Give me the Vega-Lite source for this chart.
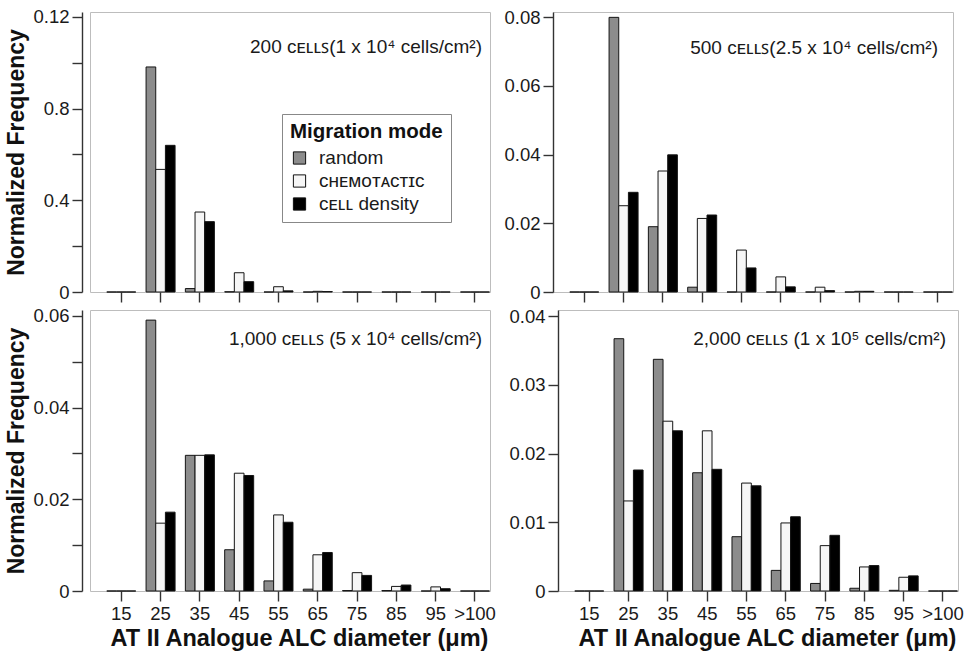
{
  "$schema": "https://vega.github.io/schema/vega-lite/v6.json",
  "background": "white",
  "padding": {"left": 5, "top": 7, "right": 3, "bottom": 0},
  "config": {
    "font": "Liberation Sans",
    "view": {"stroke": "#bdbdbd", "strokeWidth": 1},
    "axis": {"labelFontSize": 18.5, "labelColor": "#1a1a1a", "titleFontSize": 23, "titleFontWeight": "bold", "titleColor": "#111", "tickColor": "#333", "domainColor": "#333", "tickWidth": 1.4, "domainWidth": 1.4, "tickSize": 10, "grid": false, "labelPadding": 3},
    "legend": {"titleFontSize": 20.5, "titleFontWeight": "bold", "titleColor": "#111", "labelFontSize": 19, "labelColor": "#1a1a1a", "symbolType": "square", "symbolSize": 150, "symbolStrokeColor": "#111", "symbolStrokeWidth": 1, "strokeColor": "#888", "padding": 8, "rowPadding": 3, "titlePadding": 6, "labelOffset": 10}
  },
  "datasets": {
    "hist": [
      {"panel": "TL", "bin": "15", "mode": "random", "freq": 0},
      {"panel": "TL", "bin": "15", "mode": "chemotactic", "freq": 0},
      {"panel": "TL", "bin": "15", "mode": "cell density", "freq": 0},
      {"panel": "TL", "bin": "25", "mode": "random", "freq": 0.0982},
      {"panel": "TL", "bin": "25", "mode": "chemotactic", "freq": 0.0535},
      {"panel": "TL", "bin": "25", "mode": "cell density", "freq": 0.064},
      {"panel": "TL", "bin": "35", "mode": "random", "freq": 0.0015},
      {"panel": "TL", "bin": "35", "mode": "chemotactic", "freq": 0.0349},
      {"panel": "TL", "bin": "35", "mode": "cell density", "freq": 0.0307},
      {"panel": "TL", "bin": "45", "mode": "random", "freq": 0.0001},
      {"panel": "TL", "bin": "45", "mode": "chemotactic", "freq": 0.0084},
      {"panel": "TL", "bin": "45", "mode": "cell density", "freq": 0.0045},
      {"panel": "TL", "bin": "55", "mode": "random", "freq": 0},
      {"panel": "TL", "bin": "55", "mode": "chemotactic", "freq": 0.0023},
      {"panel": "TL", "bin": "55", "mode": "cell density", "freq": 0.0005},
      {"panel": "TL", "bin": "65", "mode": "random", "freq": 0},
      {"panel": "TL", "bin": "65", "mode": "chemotactic", "freq": 0.0003},
      {"panel": "TL", "bin": "65", "mode": "cell density", "freq": 0.0002},
      {"panel": "TL", "bin": "75", "mode": "random", "freq": 0},
      {"panel": "TL", "bin": "75", "mode": "chemotactic", "freq": 0},
      {"panel": "TL", "bin": "75", "mode": "cell density", "freq": 0},
      {"panel": "TL", "bin": "85", "mode": "random", "freq": 0},
      {"panel": "TL", "bin": "85", "mode": "chemotactic", "freq": 0},
      {"panel": "TL", "bin": "85", "mode": "cell density", "freq": 0},
      {"panel": "TL", "bin": "95", "mode": "random", "freq": 0},
      {"panel": "TL", "bin": "95", "mode": "chemotactic", "freq": 0},
      {"panel": "TL", "bin": "95", "mode": "cell density", "freq": 0},
      {"panel": "TL", "bin": ">100", "mode": "random", "freq": 0},
      {"panel": "TL", "bin": ">100", "mode": "chemotactic", "freq": 0},
      {"panel": "TL", "bin": ">100", "mode": "cell density", "freq": 0},

      {"panel": "TR", "bin": "15", "mode": "random", "freq": 0},
      {"panel": "TR", "bin": "15", "mode": "chemotactic", "freq": 0},
      {"panel": "TR", "bin": "15", "mode": "cell density", "freq": 0},
      {"panel": "TR", "bin": "25", "mode": "random", "freq": 0.0799},
      {"panel": "TR", "bin": "25", "mode": "chemotactic", "freq": 0.0251},
      {"panel": "TR", "bin": "25", "mode": "cell density", "freq": 0.029},
      {"panel": "TR", "bin": "35", "mode": "random", "freq": 0.019},
      {"panel": "TR", "bin": "35", "mode": "chemotactic", "freq": 0.0352},
      {"panel": "TR", "bin": "35", "mode": "cell density", "freq": 0.0399},
      {"panel": "TR", "bin": "45", "mode": "random", "freq": 0.0014},
      {"panel": "TR", "bin": "45", "mode": "chemotactic", "freq": 0.0214},
      {"panel": "TR", "bin": "45", "mode": "cell density", "freq": 0.0224},
      {"panel": "TR", "bin": "55", "mode": "random", "freq": 0},
      {"panel": "TR", "bin": "55", "mode": "chemotactic", "freq": 0.0122},
      {"panel": "TR", "bin": "55", "mode": "cell density", "freq": 0.007},
      {"panel": "TR", "bin": "65", "mode": "random", "freq": 0},
      {"panel": "TR", "bin": "65", "mode": "chemotactic", "freq": 0.0044},
      {"panel": "TR", "bin": "65", "mode": "cell density", "freq": 0.0015},
      {"panel": "TR", "bin": "75", "mode": "random", "freq": 0},
      {"panel": "TR", "bin": "75", "mode": "chemotactic", "freq": 0.0014},
      {"panel": "TR", "bin": "75", "mode": "cell density", "freq": 0.0004},
      {"panel": "TR", "bin": "85", "mode": "random", "freq": 0},
      {"panel": "TR", "bin": "85", "mode": "chemotactic", "freq": 0.0002},
      {"panel": "TR", "bin": "85", "mode": "cell density", "freq": 0.0002},
      {"panel": "TR", "bin": "95", "mode": "random", "freq": 0},
      {"panel": "TR", "bin": "95", "mode": "chemotactic", "freq": 0},
      {"panel": "TR", "bin": "95", "mode": "cell density", "freq": 0},
      {"panel": "TR", "bin": ">100", "mode": "random", "freq": 0},
      {"panel": "TR", "bin": ">100", "mode": "chemotactic", "freq": 0},
      {"panel": "TR", "bin": ">100", "mode": "cell density", "freq": 0},

      {"panel": "BL", "bin": "15", "mode": "random", "freq": 0},
      {"panel": "BL", "bin": "15", "mode": "chemotactic", "freq": 0},
      {"panel": "BL", "bin": "15", "mode": "cell density", "freq": 0},
      {"panel": "BL", "bin": "25", "mode": "random", "freq": 0.0591},
      {"panel": "BL", "bin": "25", "mode": "chemotactic", "freq": 0.0148},
      {"panel": "BL", "bin": "25", "mode": "cell density", "freq": 0.0172},
      {"panel": "BL", "bin": "35", "mode": "random", "freq": 0.0296},
      {"panel": "BL", "bin": "35", "mode": "chemotactic", "freq": 0.0296},
      {"panel": "BL", "bin": "35", "mode": "cell density", "freq": 0.0297},
      {"panel": "BL", "bin": "45", "mode": "random", "freq": 0.009},
      {"panel": "BL", "bin": "45", "mode": "chemotactic", "freq": 0.0257},
      {"panel": "BL", "bin": "45", "mode": "cell density", "freq": 0.0252},
      {"panel": "BL", "bin": "55", "mode": "random", "freq": 0.0022},
      {"panel": "BL", "bin": "55", "mode": "chemotactic", "freq": 0.0166},
      {"panel": "BL", "bin": "55", "mode": "cell density", "freq": 0.015},
      {"panel": "BL", "bin": "65", "mode": "random", "freq": 0.0004},
      {"panel": "BL", "bin": "65", "mode": "chemotactic", "freq": 0.0079},
      {"panel": "BL", "bin": "65", "mode": "cell density", "freq": 0.0084},
      {"panel": "BL", "bin": "75", "mode": "random", "freq": 0.0001},
      {"panel": "BL", "bin": "75", "mode": "chemotactic", "freq": 0.004},
      {"panel": "BL", "bin": "75", "mode": "cell density", "freq": 0.0034},
      {"panel": "BL", "bin": "85", "mode": "random", "freq": 0.0001},
      {"panel": "BL", "bin": "85", "mode": "chemotactic", "freq": 0.001},
      {"panel": "BL", "bin": "85", "mode": "cell density", "freq": 0.0013},
      {"panel": "BL", "bin": "95", "mode": "random", "freq": 0},
      {"panel": "BL", "bin": "95", "mode": "chemotactic", "freq": 0.0009},
      {"panel": "BL", "bin": "95", "mode": "cell density", "freq": 0.0005},
      {"panel": "BL", "bin": ">100", "mode": "random", "freq": 0},
      {"panel": "BL", "bin": ">100", "mode": "chemotactic", "freq": 0},
      {"panel": "BL", "bin": ">100", "mode": "cell density", "freq": 0},

      {"panel": "BR", "bin": "15", "mode": "random", "freq": 0},
      {"panel": "BR", "bin": "15", "mode": "chemotactic", "freq": 0},
      {"panel": "BR", "bin": "15", "mode": "cell density", "freq": 0},
      {"panel": "BR", "bin": "25", "mode": "random", "freq": 0.0367},
      {"panel": "BR", "bin": "25", "mode": "chemotactic", "freq": 0.0131},
      {"panel": "BR", "bin": "25", "mode": "cell density", "freq": 0.0176},
      {"panel": "BR", "bin": "35", "mode": "random", "freq": 0.0337},
      {"panel": "BR", "bin": "35", "mode": "chemotactic", "freq": 0.0247},
      {"panel": "BR", "bin": "35", "mode": "cell density", "freq": 0.0233},
      {"panel": "BR", "bin": "45", "mode": "random", "freq": 0.0172},
      {"panel": "BR", "bin": "45", "mode": "chemotactic", "freq": 0.0233},
      {"panel": "BR", "bin": "45", "mode": "cell density", "freq": 0.0177},
      {"panel": "BR", "bin": "55", "mode": "random", "freq": 0.0079},
      {"panel": "BR", "bin": "55", "mode": "chemotactic", "freq": 0.0157},
      {"panel": "BR", "bin": "55", "mode": "cell density", "freq": 0.0153},
      {"panel": "BR", "bin": "65", "mode": "random", "freq": 0.003},
      {"panel": "BR", "bin": "65", "mode": "chemotactic", "freq": 0.0099},
      {"panel": "BR", "bin": "65", "mode": "cell density", "freq": 0.0108},
      {"panel": "BR", "bin": "75", "mode": "random", "freq": 0.0011},
      {"panel": "BR", "bin": "75", "mode": "chemotactic", "freq": 0.0066},
      {"panel": "BR", "bin": "75", "mode": "cell density", "freq": 0.0081},
      {"panel": "BR", "bin": "85", "mode": "random", "freq": 0.0004},
      {"panel": "BR", "bin": "85", "mode": "chemotactic", "freq": 0.0035},
      {"panel": "BR", "bin": "85", "mode": "cell density", "freq": 0.0037},
      {"panel": "BR", "bin": "95", "mode": "random", "freq": 0.0001},
      {"panel": "BR", "bin": "95", "mode": "chemotactic", "freq": 0.002},
      {"panel": "BR", "bin": "95", "mode": "cell density", "freq": 0.0022},
      {"panel": "BR", "bin": ">100", "mode": "random", "freq": 0},
      {"panel": "BR", "bin": ">100", "mode": "chemotactic", "freq": 0},
      {"panel": "BR", "bin": ">100", "mode": "cell density", "freq": 0}
    ],
    "notes": [
      {"panel": "TL", "note": "200 ᴄᴇʟʟꜱ(1 x 10⁴ cells/cm²)"},
      {"panel": "TR", "note": "500 ᴄᴇʟʟꜱ(2.5 x 10⁴ cells/cm²)"},
      {"panel": "BL", "note": "1,000 ᴄᴇʟʟꜱ (5 x 10⁴ cells/cm²)"},
      {"panel": "BR", "note": "2,000 ᴄᴇʟʟꜱ (1 x 10⁵ cells/cm²)"}
    ]
  },
  "vconcat": [
    {
      "hconcat": [
        {
          "width": 400, "height": 280,
          "layer": [
            {
              "data": {"name": "hist"},
              "transform": [{"filter": "datum.panel == 'TL'"}],
              "mark": {"type": "bar", "stroke": "#151515", "strokeWidth": 1},
              "encoding": {
                "x": {"field": "bin", "type": "nominal", "scale": {"domain": ["15","25","35","45","55","65","75","85","95",">100"], "paddingInner": 0.262, "paddingOuter": 0.22, "align": 0.97}, "axis": {"labels": false, "title": null, "domain": false}},
                "xOffset": {"field": "mode", "type": "nominal", "sort": ["random", "chemotactic", "cell density"], "scale": {"paddingInner": 0}},
                "y": {"field": "freq", "type": "quantitative", "scale": {"domain": [0, 0.12218], "nice": false}, "axis": {"title": "Normalized Frequency", "titlePadding": 4, "offset": 8, "values": [0, 0.02, 0.04, 0.06, 0.08, 0.1, 0.12], "labelExpr": "abs(datum.value) < 1e-9 ? '0' : abs(datum.value - 0.04) < 1e-9 ? '0.4' : abs(datum.value - 0.08) < 1e-9 ? '0.8' : abs(datum.value - 0.12) < 1e-9 ? '0.12' : ''"}},
                "color": {"field": "mode", "type": "nominal", "sort": ["random", "chemotactic", "cell density"], "scale": {"domain": ["random", "chemotactic", "cell density"], "range": ["#8c8c8c", "#f6f6f6", "#000000"]}, "legend": {"title": "Migration mode", "orient": "none", "legendX": 192, "legendY": 102, "labelExpr": "datum.label == 'chemotactic' ? 'ᴄʜᴇᴍᴏᴛᴀᴄᴛɪᴄ' : datum.label == 'cell density' ? 'ᴄᴇʟʟ density' : datum.label"}}
              }
            },
            {
              "data": {"name": "notes"},
              "transform": [{"filter": "datum.panel == 'TL'"}],
              "mark": {"type": "text", "align": "right", "baseline": "middle", "fontSize": 19, "color": "#1a1a1a", "dx": 7, "dy": 30},
              "encoding": {
                "x": {"datum": ">100", "type": "nominal"},
                "y": {"datum": 0.12, "type": "quantitative"},
                "text": {"field": "note"}
              }
            }
          ]
        },
        {
          "width": 400, "height": 280,
          "layer": [
            {
              "data": {"name": "hist"},
              "transform": [{"filter": "datum.panel == 'TR'"}],
              "mark": {"type": "bar", "stroke": "#151515", "strokeWidth": 1},
              "encoding": {
                "x": {"field": "bin", "type": "nominal", "scale": {"domain": ["15","25","35","45","55","65","75","85","95",">100"], "paddingInner": 0.262, "paddingOuter": 0.22, "align": 0.97}, "axis": {"labels": false, "title": null, "domain": false}},
                "xOffset": {"field": "mode", "type": "nominal", "sort": ["random", "chemotactic", "cell density"], "scale": {"paddingInner": 0}},
                "y": {"field": "freq", "type": "quantitative", "scale": {"domain": [0, 0.081455], "nice": false}, "axis": {"title": null, "values": [0, 0.02, 0.04, 0.06, 0.08], "labelExpr": "abs(datum.value) < 1e-9 ? '0' : format(datum.value, '.2f')"}},
                "color": {"field": "mode", "type": "nominal", "sort": ["random", "chemotactic", "cell density"], "scale": {"domain": ["random", "chemotactic", "cell density"], "range": ["#8c8c8c", "#f6f6f6", "#000000"]}, "legend": null}
              }
            },
            {
              "data": {"name": "notes"},
              "transform": [{"filter": "datum.panel == 'TR'"}],
              "mark": {"type": "text", "align": "right", "baseline": "middle", "fontSize": 19, "color": "#1a1a1a", "dx": 0, "dy": 31},
              "encoding": {
                "x": {"datum": ">100", "type": "nominal"},
                "y": {"datum": 0.08, "type": "quantitative"},
                "text": {"field": "note"}
              }
            }
          ]
        }
      ],
      "spacing": 12
    },
    {
      "hconcat": [
        {
          "width": 400, "height": 281,
          "layer": [
            {
              "data": {"name": "hist"},
              "transform": [{"filter": "datum.panel == 'BL'"}],
              "mark": {"type": "bar", "stroke": "#151515", "strokeWidth": 1},
              "encoding": {
                "x": {"field": "bin", "type": "nominal", "scale": {"domain": ["15","25","35","45","55","65","75","85","95",">100"], "paddingInner": 0.262, "paddingOuter": 0.22, "align": 0.97}, "axis": {"labelAngle": 0, "title": "AT II Analogue ALC diameter (μm)", "titleFontSize": 23.5, "titleX": 209, "domain": false, "labelPadding": 3, "titlePadding": 4}},
                "xOffset": {"field": "mode", "type": "nominal", "sort": ["random", "chemotactic", "cell density"], "scale": {"paddingInner": 0}},
                "y": {"field": "freq", "type": "quantitative", "scale": {"domain": [0, 0.061309], "nice": false}, "axis": {"title": "Normalized Frequency", "titlePadding": 4, "offset": 8, "values": [0, 0.01, 0.02, 0.03, 0.04, 0.05, 0.06], "labelExpr": "abs(datum.value) < 1e-9 ? '0' : abs(datum.value - 0.02) < 1e-9 || abs(datum.value - 0.04) < 1e-9 || abs(datum.value - 0.06) < 1e-9 ? format(datum.value, '.2f') : ''"}},
                "color": {"field": "mode", "type": "nominal", "sort": ["random", "chemotactic", "cell density"], "scale": {"domain": ["random", "chemotactic", "cell density"], "range": ["#8c8c8c", "#f6f6f6", "#000000"]}, "legend": null}
              }
            },
            {
              "data": {"name": "notes"},
              "transform": [{"filter": "datum.panel == 'BL'"}],
              "mark": {"type": "text", "align": "right", "baseline": "middle", "fontSize": 19, "color": "#1a1a1a", "dx": 7, "dy": 23},
              "encoding": {
                "x": {"datum": ">100", "type": "nominal"},
                "y": {"datum": 0.06, "type": "quantitative"},
                "text": {"field": "note"}
              }
            }
          ]
        },
        {
          "width": 400, "height": 281,
          "layer": [
            {
              "data": {"name": "hist"},
              "transform": [{"filter": "datum.panel == 'BR'"}],
              "mark": {"type": "bar", "stroke": "#151515", "strokeWidth": 1},
              "encoding": {
                "x": {"field": "bin", "type": "nominal", "scale": {"domain": ["15","25","35","45","55","65","75","85","95",">100"], "paddingInner": 0.262, "paddingOuter": 0.22, "align": 0.97}, "axis": {"labelAngle": 0, "title": "AT II Analogue ALC diameter (μm)", "titleFontSize": 23.5, "titleX": 209, "domain": false, "labelPadding": 3, "titlePadding": 4}},
                "xOffset": {"field": "mode", "type": "nominal", "sort": ["random", "chemotactic", "cell density"], "scale": {"paddingInner": 0}},
                "y": {"field": "freq", "type": "quantitative", "scale": {"domain": [0, 0.040873], "nice": false}, "axis": {"title": null, "values": [0, 0.01, 0.02, 0.03, 0.04], "labelExpr": "abs(datum.value) < 1e-9 ? '0' : format(datum.value, '.2f')"}},
                "color": {"field": "mode", "type": "nominal", "sort": ["random", "chemotactic", "cell density"], "scale": {"domain": ["random", "chemotactic", "cell density"], "range": ["#8c8c8c", "#f6f6f6", "#000000"]}, "legend": null}
              }
            },
            {
              "data": {"name": "notes"},
              "transform": [{"filter": "datum.panel == 'BR'"}],
              "mark": {"type": "text", "align": "right", "baseline": "middle", "fontSize": 19, "color": "#1a1a1a", "dx": 3, "dy": 23},
              "encoding": {
                "x": {"datum": ">100", "type": "nominal"},
                "y": {"datum": 0.04, "type": "quantitative"},
                "text": {"field": "note"}
              }
            }
          ]
        }
      ],
      "spacing": 12
    }
  ],
  "spacing": 2,
  "resolve": {"scale": {"y": "independent"}}
}
